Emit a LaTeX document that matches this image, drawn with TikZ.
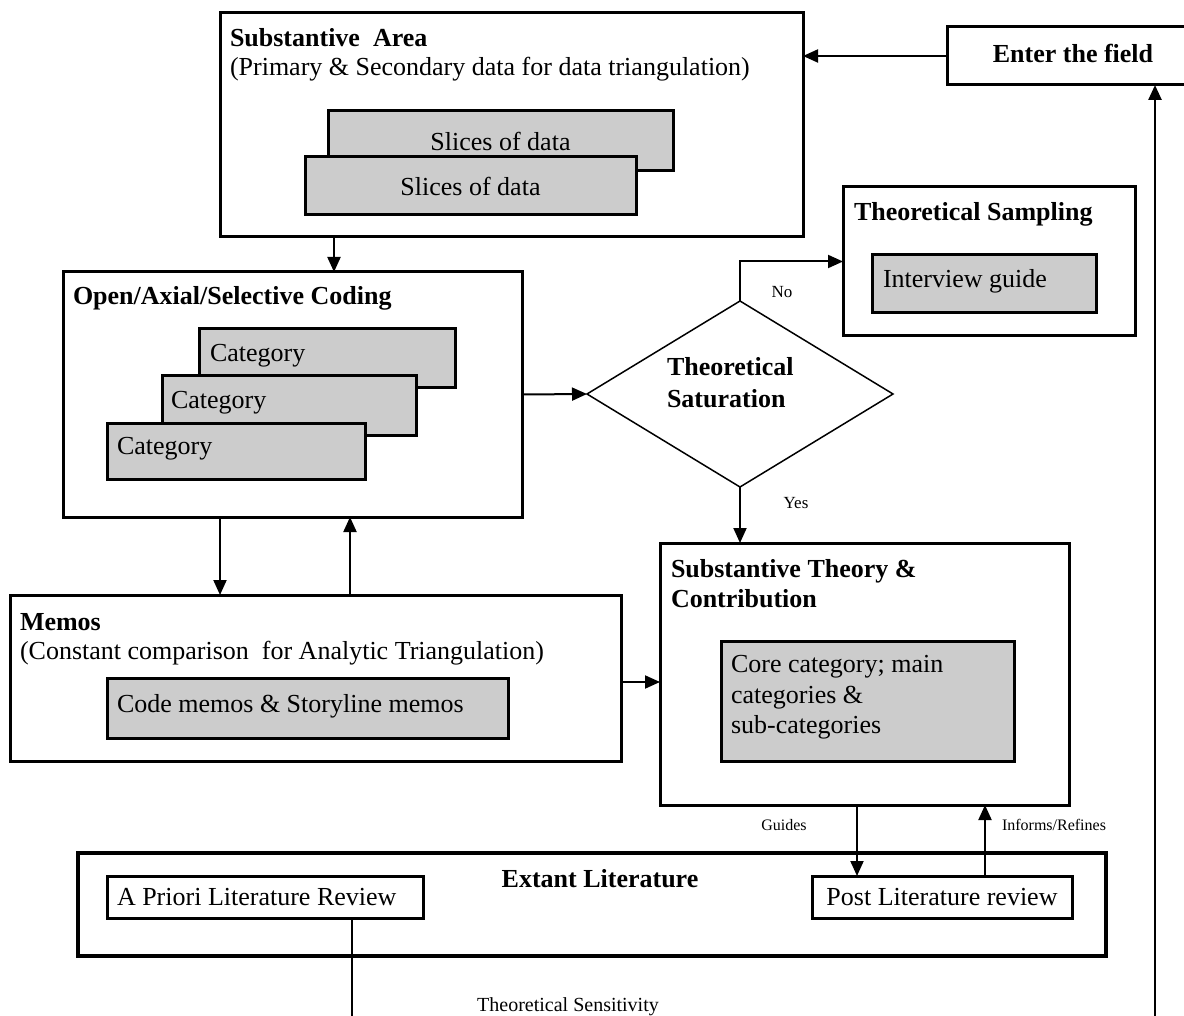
\documentclass[tikz,border=0pt]{standalone}
\usepackage{fontspec}
\setmainfont{Liberation Serif}
\usetikzlibrary{arrows.meta,shapes.geometric,calc}
\definecolor{boxgray}{RGB}{204,204,204}
\begin{document}
\begin{tikzpicture}[x=1pt,y=-1pt,
  frame/.style={draw,line width=3pt,rectangle,inner sep=0pt,outer sep=0pt,fill=white},
  shaded/.style={frame,fill=boxgray},
  txt/.style={inner sep=0pt,outer sep=0pt,font=\fontsize{26}{30.5}\selectfont},
  head/.style={inner sep=0pt,outer sep=0pt,font=\fontsize{26}{30}\selectfont\bfseries},
  note/.style={inner sep=0pt,outer sep=0pt,font=\fontsize{17}{20}\selectfont},
  link/.style={line width=2pt},
  arr/.style={link,-{Triangle[length=15pt,width=13pt]}},
]
\fill[white] (0,0) rectangle (1184,1016);
\useasboundingbox (0,0) rectangle (1184,1016);

% Substantive area with its data slices
\node[frame,minimum width=583pt,minimum height=224pt] (subst) at (511.5,125) {};
\node[head,anchor=base west] (substT) at (230,47) {Substantive\ \ Area};
\node[txt,anchor=base west] (substS) at (230,76) {(Primary \& Secondary data for data triangulation)};
\node[shaded,txt,minimum width=345pt,minimum height=60pt] (sliceA) at (500.5,141) {Slices of data};
\node[shaded,txt,minimum width=331pt,minimum height=58pt] (sliceB) at (470.5,186) {Slices of data};

% Entry point
\node[frame,head,minimum width=248pt,minimum height=58pt] (enter) at (1071,56) {};
\node[head] (enterT) at (1073,53) {Enter the field};

% Theoretical sampling
\node[frame,minimum width=292pt,minimum height=149pt] (tsamp) at (989,261.5) {};
\node[head,anchor=base west] (tsampT) at (854,221) {Theoretical Sampling};
\node[shaded,minimum width=224pt,minimum height=58pt] (guide) at (984,284) {};
\node[txt,anchor=west] (guideT) at (883,281) {Interview guide};

% Coding
\node[frame,minimum width=459pt,minimum height=245pt] (coding) at (292.5,394.5) {};
\node[head,anchor=base west] (codingT) at (73,305) {Open/Axial/Selective Coding};
\node[shaded,minimum width=256pt,minimum height=59pt] (catA) at (327,358.5) {};
\node[txt,anchor=west] (catAT) at (210,356) {Category};
\node[shaded,minimum width=254pt,minimum height=59pt] (catB) at (289,405.5) {};
\node[txt,anchor=west] (catBT) at (171,403) {Category};
\node[shaded,minimum width=258pt,minimum height=56pt] (catC) at (236,451) {};
\node[txt,anchor=west] (catCT) at (117,449) {Category};

% Decision
\node[diamond,draw,line width=1.5pt,minimum width=306pt,minimum height=186pt,
      inner sep=0pt,outer sep=0pt,aspect=1.645] (sat) at (740,394) {};
\node[head,anchor=base west] (satA) at (667,376) {Theoretical};
\node[head,anchor=base west] (satB) at (667,407) {Saturation};

% Memos
\node[frame,minimum width=611pt,minimum height=166pt] (memos) at (315.5,678) {};
\node[head,anchor=base west] (memosT) at (20,630) {Memos};
\node[txt,anchor=base west] (memosS) at (20,659) {(Constant comparison\ \ for Analytic Triangulation)};
\node[shaded,minimum width=401pt,minimum height=60pt] (cmemo) at (307.5,708) {};
\node[txt,anchor=west] (cmemoT) at (117,706) {Code memos \& Storyline memos};

% Substantive theory
\node[frame,minimum width=409pt,minimum height=262pt] (st) at (864.5,674) {};
\node[head,anchor=base west] (stA) at (671,577) {Substantive Theory \&};
\node[head,anchor=base west] (stB) at (671,607) {Contribution};
\node[shaded,minimum width=293pt,minimum height=120pt] (core) at (867.5,701) {};
\node[txt,align=left,anchor=west] (coreT) at (731,697.5) {Core category; main\\categories \&\\sub-categories};

% Literature
\node[draw,line width=4pt,rectangle,inner sep=0pt,outer sep=0pt,minimum width=1028pt,minimum height=103pt] (extant) at (592,904.5) {};
\node[head,anchor=base] (extantT) at (600,887) {Extant Literature};
\node[frame,txt,minimum width=316pt,minimum height=42pt] (apriori) at (265,897) {};
\node[txt,anchor=west] (aprioriT) at (117,897) {A Priori Literature Review};
\node[frame,txt,minimum width=260pt,minimum height=42pt] (post) at (942,897) {Post Literature review};

% Connectors
\draw[arr] (enter.west) -- (enter.west -| subst.east);
\coordinate (s1) at ([xshift=114pt]subst.south west);
\draw[arr] (s1) -- (s1 |- coding.north);
\draw[arr] (coding.east) -- (sat.west);
\draw[arr] (sat.north) |- (tsamp.west);
\draw[arr] (sat.south) -- (sat.south |- st.north);
\coordinate (c1) at ([xshift=157pt]coding.south west);
\coordinate (c2) at ([xshift=287pt]coding.south west);
\draw[arr] (c1) -- (c1 |- memos.north);
\draw[arr] (c2 |- memos.north) -- (c2);
\coordinate (m1) at ([yshift=-4pt]memos.east);
\draw[arr] (m1) -- (m1 -| st.west);
\coordinate (g1) at ([xshift=197pt]st.south west);
\coordinate (r1) at ([xshift=325pt]st.south west);
\draw[arr] (g1) -- (g1 |- post.north);
\draw[arr] (r1 |- post.north) -- (r1);
\coordinate (a1) at ([xshift=245pt]apriori.south west);
\coordinate (bottomEdge) at (0,1020);
\draw[link] (a1) -- (a1 |- bottomEdge);
\coordinate (f1) at (1155,1020);
\draw[arr,line width=2.5pt] (f1) -- (f1 |- enter.south);

% Connector labels
\node[note] (noLbl) at (782,292) {No};
\node[note] (yesLbl) at (796,503) {Yes};
\node[note,font=\fontsize{16}{19}\selectfont] (guidesLbl) at (784,825) {Guides};
\node[note,font=\fontsize{16}{19}\selectfont] (informsLbl) at (1054,825) {Informs/Refines};
\node[note,font=\fontsize{20}{24}\selectfont] (sensLbl) at (568,1007) {Theoretical Sensitivity};
\end{tikzpicture}
\end{document}
